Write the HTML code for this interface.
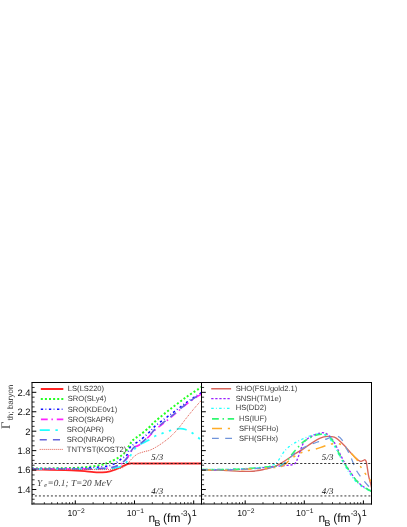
<!DOCTYPE html>
<html><head><meta charset="utf-8"><title>Gamma_th baryon</title>
<style>html,body{margin:0;padding:0;background:#fff;}body{width:407px;height:527px;overflow:hidden;font-family:"Liberation Sans",sans-serif;}svg{display:block;will-change:transform;opacity:0.999;}</style>
</head><body>
<svg width="407" height="527" viewBox="0 0 407 527">
<rect x="0" y="0" width="407" height="527" fill="#fff"/>
<defs><clipPath id="cl"><rect x="32.00" y="382.50" width="169.50" height="121.50"/></clipPath>
<clipPath id="cr"><rect x="201.50" y="382.50" width="170.00" height="121.50"/></clipPath></defs>
<line x1="30.90" y1="495.90" x2="201.50" y2="495.90" stroke="#8c8c8c" stroke-width="1.7" stroke-dasharray="2.0 2.0" clip-path="url(#cl)"/>
<line x1="200.40" y1="495.90" x2="371.50" y2="495.90" stroke="#8c8c8c" stroke-width="1.7" stroke-dasharray="2.0 2.0" clip-path="url(#cr)"/>
<path d="M32.00,469.50 C35.00,469.55 44.50,469.68 50.00,469.80 C55.50,469.92 60.67,470.07 65.00,470.20 C69.33,470.33 72.70,470.43 76.00,470.60 C79.30,470.77 81.85,470.93 84.80,471.20 C87.75,471.47 90.75,472.02 93.70,472.20 C96.65,472.38 99.78,472.45 102.50,472.30 C105.22,472.15 107.78,471.77 110.00,471.30 C112.22,470.83 113.85,470.28 115.80,469.50 C117.75,468.72 119.85,467.47 121.70,466.60 C123.55,465.73 125.42,464.82 126.90,464.30 C128.38,463.78 129.58,463.63 130.60,463.50 C131.62,463.37 132.10,463.50 133.00,463.50 C133.90,463.50 134.83,463.50 136.00,463.50 C137.17,463.50 137.67,463.50 140.00,463.50 C142.33,463.50 145.00,463.50 150.00,463.50 C155.00,463.50 161.33,463.50 170.00,463.50 C178.67,463.50 196.67,463.50 202.00,463.50" fill="none" stroke="#ff2424" stroke-width="1.8" stroke-linecap="butt" stroke-linejoin="round" clip-path="url(#cl)" />
<path d="M32.00,468.40 C35.00,468.40 44.50,468.43 50.00,468.40 C55.50,468.37 60.67,468.28 65.00,468.20 C69.33,468.12 72.70,468.05 76.00,467.90 C79.30,467.75 81.85,467.58 84.80,467.30 C87.75,467.02 90.75,466.65 93.70,466.20 C96.65,465.75 99.78,465.32 102.50,464.60 C105.22,463.88 107.28,463.10 110.00,461.90 C112.72,460.70 116.35,458.93 118.80,457.40 C121.25,455.87 123.00,454.60 124.70,452.70 C126.40,450.80 127.65,448.07 129.00,446.00 C130.35,443.93 130.97,442.13 132.80,440.30 C134.63,438.47 137.30,437.13 140.00,435.00 C142.70,432.87 146.38,429.85 149.00,427.50 C151.62,425.15 151.97,424.10 155.70,420.90 C159.43,417.70 166.15,412.37 171.40,408.30 C176.65,404.23 182.18,400.03 187.20,396.50 C192.22,392.97 199.12,388.67 201.50,387.10" fill="none" stroke="#22ff22" stroke-width="2.0" stroke-dasharray="2 2.1" stroke-linecap="butt" stroke-linejoin="round" clip-path="url(#cl)" />
<path d="M32.00,468.60 C35.00,468.60 44.50,468.60 50.00,468.60 C55.50,468.60 60.67,468.62 65.00,468.60 C69.33,468.58 71.22,468.68 76.00,468.50 C80.78,468.32 89.28,467.80 93.70,467.50 C98.12,467.20 99.78,467.02 102.50,466.70 C105.22,466.38 107.78,466.22 110.00,465.60 C112.22,464.98 113.85,464.17 115.80,463.00 C117.75,461.83 119.85,459.93 121.70,458.60 C123.55,457.27 125.55,456.82 126.90,455.00 C128.25,453.18 128.58,449.53 129.80,447.70 C131.02,445.87 132.50,445.20 134.20,444.00 C135.90,442.80 137.53,442.42 140.00,440.50 C142.47,438.58 146.38,434.98 149.00,432.50 C151.62,430.02 151.97,428.72 155.70,425.60 C159.43,422.48 166.15,417.73 171.40,413.80 C176.65,409.87 182.18,405.53 187.20,402.00 C192.22,398.47 199.12,394.17 201.50,392.60" fill="none" stroke="#1010ff" stroke-width="1.6" stroke-dasharray="2.3 2.4 0.8 2.6" stroke-linecap="butt" stroke-linejoin="round" clip-path="url(#cl)" />
<path d="M32.00,468.90 C35.00,468.92 42.67,468.98 50.00,469.00 C57.33,469.02 68.72,469.03 76.00,469.00 C83.28,468.97 89.28,468.88 93.70,468.80 C98.12,468.72 99.78,468.63 102.50,468.50 C105.22,468.37 107.78,468.30 110.00,468.00 C112.22,467.70 113.85,467.40 115.80,466.70 C117.75,466.00 119.85,465.15 121.70,463.80 C123.55,462.45 125.55,460.30 126.90,458.60 C128.25,456.90 128.58,455.45 129.80,453.60 C131.02,451.75 132.50,449.02 134.20,447.50 C135.90,445.98 137.53,446.33 140.00,444.50 C142.47,442.67 146.38,439.00 149.00,436.50 C151.62,434.00 151.97,432.75 155.70,429.50 C159.43,426.25 166.15,421.32 171.40,417.00 C176.65,412.68 182.18,407.47 187.20,403.60 C192.22,399.73 199.12,395.43 201.50,393.80" fill="none" stroke="#ff22ff" stroke-width="1.6" stroke-dasharray="6.8 3.7 1.5 3.9" stroke-linecap="butt" stroke-linejoin="round" clip-path="url(#cl)" />
<path d="M32.00,469.00 C35.00,469.02 42.67,469.07 50.00,469.10 C57.33,469.13 68.72,469.22 76.00,469.20 C83.28,469.18 89.28,469.07 93.70,469.00 C98.12,468.93 99.78,468.88 102.50,468.80 C105.22,468.72 107.78,468.67 110.00,468.50 C112.22,468.33 113.85,468.22 115.80,467.80 C117.75,467.38 119.85,467.03 121.70,466.00 C123.55,464.97 125.30,463.57 126.90,461.60 C128.50,459.63 129.95,456.38 131.30,454.20 C132.65,452.02 133.55,450.12 135.00,448.50 C136.45,446.88 137.85,445.83 140.00,444.50 C142.15,443.17 145.28,441.95 147.90,440.50 C150.52,439.05 153.35,436.97 155.70,435.80 C158.05,434.63 159.63,434.37 162.00,433.50 C164.37,432.63 167.02,431.40 169.90,430.60 C172.78,429.80 176.68,428.88 179.30,428.70 C181.92,428.52 183.50,428.83 185.60,429.50 C187.70,430.17 189.67,431.25 191.90,432.70 C194.13,434.15 197.40,436.90 199.00,438.20 C200.60,439.50 201.08,440.12 201.50,440.50" fill="none" stroke="#22ffff" stroke-width="1.8" stroke-dasharray="10.1 5.6 2.4 5.6 2.4 5.6 2.4 5.6" stroke-linecap="butt" stroke-linejoin="round" clip-path="url(#cl)" />
<path d="M32.00,468.90 C35.00,468.92 42.67,468.98 50.00,469.00 C57.33,469.02 68.72,469.03 76.00,469.00 C83.28,468.97 89.28,468.90 93.70,468.80 C98.12,468.70 99.78,468.57 102.50,468.40 C105.22,468.23 107.78,468.17 110.00,467.80 C112.22,467.43 113.85,466.97 115.80,466.20 C117.75,465.43 119.85,464.57 121.70,463.20 C123.55,461.83 125.55,459.70 126.90,458.00 C128.25,456.30 128.58,454.83 129.80,453.00 C131.02,451.17 132.50,448.50 134.20,447.00 C135.90,445.50 137.53,445.83 140.00,444.00 C142.47,442.17 146.38,438.55 149.00,436.00 C151.62,433.45 151.97,432.00 155.70,428.70 C159.43,425.40 166.15,420.45 171.40,416.20 C176.65,411.95 182.18,407.02 187.20,403.20 C192.22,399.38 199.12,394.95 201.50,393.30" fill="none" stroke="#6464dc" stroke-width="1.6" stroke-dasharray="7.1 6.1" stroke-linecap="butt" stroke-linejoin="round" clip-path="url(#cl)" />
<path d="M32.00,469.00 C35.00,469.03 42.67,469.13 50.00,469.20 C57.33,469.27 67.25,469.33 76.00,469.40 C84.75,469.47 96.35,469.63 102.50,469.60 C108.65,469.57 110.15,469.37 112.90,469.20 C115.65,469.03 117.28,468.92 119.00,468.60 C120.72,468.28 121.77,468.10 123.20,467.30 C124.63,466.50 126.13,465.27 127.60,463.80 C129.07,462.33 130.40,460.10 132.00,458.50 C133.60,456.90 135.60,455.20 137.20,454.20 C138.80,453.20 140.13,453.00 141.60,452.50 C143.07,452.00 144.70,451.55 146.00,451.20 C147.30,450.85 147.78,451.05 149.40,450.40 C151.02,449.75 153.33,448.68 155.70,447.30 C158.07,445.92 160.98,444.02 163.60,442.10 C166.22,440.18 168.78,438.28 171.40,435.80 C174.02,433.32 176.67,430.33 179.30,427.20 C181.93,424.07 184.58,420.28 187.20,417.00 C189.82,413.72 192.62,410.30 195.00,407.50 C197.38,404.70 200.42,401.42 201.50,400.20" fill="none" stroke="#dc4638" stroke-width="0.9" stroke-dasharray="1 1" stroke-linecap="butt" stroke-linejoin="round" clip-path="url(#cl)" />
<line x1="30.60" y1="463.50" x2="201.50" y2="463.50" stroke="#1c1c1c" stroke-width="0.9" stroke-dasharray="2.15 1.85" clip-path="url(#cl)"/>
<path d="M201.50,469.70 C203.75,469.75 210.58,469.83 215.00,470.00 C219.42,470.17 223.83,470.48 228.00,470.70 C232.17,470.92 236.33,471.18 240.00,471.30 C243.67,471.42 247.00,471.50 250.00,471.40 C253.00,471.30 255.67,471.03 258.00,470.70 C260.33,470.37 262.23,469.80 264.00,469.40 C265.77,469.00 267.10,468.72 268.60,468.30 C270.10,467.88 271.57,467.38 273.00,466.90 C274.43,466.42 275.07,466.50 277.20,465.40 C279.33,464.30 282.93,462.15 285.80,460.30 C288.67,458.45 291.53,456.17 294.40,454.30 C297.27,452.43 300.13,450.97 303.00,449.10 C305.87,447.23 308.73,444.92 311.60,443.10 C314.47,441.28 317.57,439.32 320.20,438.20 C322.83,437.08 325.05,436.57 327.40,436.40 C329.75,436.23 332.30,436.48 334.30,437.20 C336.30,437.92 337.68,439.27 339.40,440.70 C341.12,442.13 342.87,443.95 344.60,445.80 C346.33,447.65 348.08,449.88 349.80,451.80 C351.52,453.72 353.47,455.90 354.90,457.30 C356.33,458.70 357.38,459.53 358.40,460.20 C359.42,460.87 360.15,461.27 361.00,461.30 C361.85,461.33 362.83,460.65 363.50,460.40 C364.17,460.15 364.55,459.62 365.00,459.80 C365.45,459.98 365.80,460.07 366.20,461.50 C366.60,462.93 367.00,466.02 367.40,468.40 C367.80,470.78 368.08,473.33 368.60,475.80 C369.12,478.27 370.02,481.25 370.50,483.20 C370.98,485.15 371.33,486.78 371.50,487.50" fill="none" stroke="#d8665c" stroke-width="1.35" stroke-linecap="butt" stroke-linejoin="round" clip-path="url(#cr)" />
<path d="M201.50,469.70 C204.58,469.70 213.58,469.77 220.00,469.70 C226.42,469.63 233.33,469.60 240.00,469.30 C246.67,469.00 253.80,468.40 260.00,467.90 C266.20,467.40 272.90,466.70 277.20,466.30 C281.50,465.90 283.50,465.72 285.80,465.50 C288.10,465.28 289.42,465.38 291.00,465.00 C292.58,464.62 294.15,464.42 295.30,463.20 C296.45,461.98 297.05,459.77 297.90,457.70 C298.75,455.63 299.55,453.10 300.40,450.80 C301.25,448.50 301.98,445.77 303.00,443.90 C304.02,442.03 305.07,440.88 306.50,439.60 C307.93,438.32 309.60,437.22 311.60,436.20 C313.60,435.18 316.43,434.07 318.50,433.50 C320.57,432.93 322.25,432.47 324.00,432.80 C325.75,433.13 327.28,433.90 329.00,435.50 C330.72,437.10 332.57,439.53 334.30,442.40 C336.03,445.27 337.68,449.32 339.40,452.70 C341.12,456.08 342.90,459.67 344.60,462.70 C346.30,465.73 347.75,468.10 349.60,470.90 C351.45,473.70 353.65,477.05 355.70,479.50 C357.75,481.95 359.85,483.97 361.90,485.60 C363.95,487.23 366.40,488.37 368.00,489.30 C369.60,490.23 370.92,490.88 371.50,491.20" fill="none" stroke="#9a22ff" stroke-width="1.3" stroke-dasharray="2.3 1.75" stroke-linecap="butt" stroke-linejoin="round" clip-path="url(#cr)" />
<path d="M201.50,469.50 C204.58,469.48 213.58,469.53 220.00,469.40 C226.42,469.27 233.33,469.02 240.00,468.70 C246.67,468.38 254.67,468.05 260.00,467.50 C265.33,466.95 269.13,466.32 272.00,465.40 C274.87,464.48 275.75,463.43 277.20,462.00 C278.65,460.57 279.55,458.52 280.70,456.80 C281.85,455.08 282.67,453.42 284.10,451.70 C285.53,449.98 287.58,447.93 289.30,446.50 C291.02,445.07 292.12,444.38 294.40,443.10 C296.68,441.82 300.13,440.10 303.00,438.80 C305.87,437.50 308.97,436.13 311.60,435.30 C314.23,434.47 316.73,433.92 318.80,433.80 C320.87,433.68 322.30,433.90 324.00,434.60 C325.70,435.30 327.28,436.13 329.00,438.00 C330.72,439.87 332.57,442.83 334.30,445.80 C336.03,448.77 337.68,452.60 339.40,455.80 C341.12,459.00 343.00,462.22 344.60,465.00 C346.20,467.78 347.27,469.92 349.00,472.50 C350.73,475.08 353.00,478.25 355.00,480.50 C357.00,482.75 358.83,484.42 361.00,486.00 C363.17,487.58 366.25,489.07 368.00,490.00 C369.75,490.93 370.92,491.33 371.50,491.60" fill="none" stroke="#22ffff" stroke-width="1.25" stroke-dasharray="2.5 2.2 0.8 2.4" stroke-linecap="butt" stroke-linejoin="round" clip-path="url(#cr)" />
<path d="M201.50,469.60 C204.58,469.60 213.58,469.68 220.00,469.60 C226.42,469.52 233.33,469.43 240.00,469.10 C246.67,468.77 253.80,468.12 260.00,467.60 C266.20,467.08 273.47,466.50 277.20,466.00 C280.93,465.50 280.68,465.55 282.40,464.60 C284.12,463.65 285.78,462.17 287.50,460.30 C289.22,458.43 290.97,455.55 292.70,453.40 C294.43,451.25 296.18,449.27 297.90,447.40 C299.62,445.53 301.28,443.63 303.00,442.20 C304.72,440.77 306.20,439.90 308.20,438.80 C310.20,437.70 312.87,436.37 315.00,435.60 C317.13,434.83 319.25,434.43 321.00,434.20 C322.75,433.97 324.00,433.70 325.50,434.20 C327.00,434.70 328.53,435.65 330.00,437.20 C331.47,438.75 332.73,440.63 334.30,443.50 C335.87,446.37 337.70,451.05 339.40,454.40 C341.10,457.75 342.80,460.80 344.50,463.60 C346.20,466.40 347.73,468.52 349.60,471.20 C351.47,473.88 353.65,477.27 355.70,479.70 C357.75,482.13 359.85,484.17 361.90,485.80 C363.95,487.43 366.40,488.58 368.00,489.50 C369.60,490.42 370.92,491.00 371.50,491.30" fill="none" stroke="#30f870" stroke-width="1.6" stroke-dasharray="6.8 3.7 1.5 3.7" stroke-linecap="butt" stroke-linejoin="round" clip-path="url(#cr)" />
<path d="M201.50,469.80 C204.58,469.82 213.58,469.92 220.00,469.90 C226.42,469.88 233.33,469.93 240.00,469.70 C246.67,469.47 253.80,468.92 260.00,468.50 C266.20,468.08 273.47,467.62 277.20,467.20 C280.93,466.78 280.97,466.58 282.40,466.00 C283.83,465.42 284.65,464.65 285.80,463.70 C286.95,462.75 287.77,461.58 289.30,460.30 C290.83,459.02 293.05,457.25 295.00,456.00 C296.95,454.75 299.05,453.63 301.00,452.80 C302.95,451.97 304.32,451.60 306.70,451.00 C309.08,450.40 312.42,450.00 315.30,449.20 C318.18,448.40 321.42,447.05 324.00,446.20 C326.58,445.35 328.52,444.53 330.80,444.10 C333.08,443.67 335.67,443.38 337.70,443.60 C339.73,443.82 341.45,444.53 343.00,445.40 C344.55,446.27 345.75,447.62 347.00,448.80 C348.25,449.98 349.18,451.08 350.50,452.50 C351.82,453.92 353.72,455.95 354.90,457.30 C356.08,458.65 356.73,459.17 357.60,460.60 C358.47,462.03 358.93,463.88 360.10,465.90 C361.27,467.92 363.08,470.58 364.60,472.70 C366.12,474.82 368.05,476.80 369.20,478.60 C370.35,480.40 371.12,482.68 371.50,483.50" fill="none" stroke="#ffac28" stroke-width="1.5" stroke-dasharray="10 5.8 2.2 5.8 2.2 5.8 2.2 5.8" stroke-linecap="butt" stroke-linejoin="round" clip-path="url(#cr)" />
<path d="M201.50,469.70 C204.58,469.72 213.58,469.83 220.00,469.80 C226.42,469.77 233.33,469.75 240.00,469.50 C246.67,469.25 253.80,468.75 260.00,468.30 C266.20,467.85 273.37,467.43 277.20,466.80 C281.03,466.17 280.98,465.87 283.00,464.50 C285.02,463.13 287.40,460.45 289.30,458.60 C291.20,456.75 292.40,455.00 294.40,453.40 C296.40,451.80 299.20,450.23 301.30,449.00 C303.40,447.77 304.98,446.93 307.00,446.00 C309.02,445.07 311.43,444.13 313.40,443.40 C315.37,442.67 316.87,442.25 318.80,441.60 C320.73,440.95 322.97,440.18 325.00,439.50 C327.03,438.82 328.88,438.02 331.00,437.50 C333.12,436.98 335.87,436.02 337.70,436.40 C339.53,436.78 340.57,437.87 342.00,439.80 C343.43,441.73 345.00,445.50 346.30,448.00 C347.60,450.50 348.63,452.27 349.80,454.80 C350.97,457.33 352.22,460.62 353.30,463.20 C354.38,465.78 355.18,468.20 356.30,470.30 C357.42,472.40 358.67,473.97 360.00,475.80 C361.33,477.63 362.87,479.57 364.30,481.30 C365.73,483.03 367.40,484.92 368.60,486.20 C369.80,487.48 371.02,488.53 371.50,489.00" fill="none" stroke="#7094da" stroke-width="1.25" stroke-dasharray="6.8 6.4" stroke-linecap="butt" stroke-linejoin="round" clip-path="url(#cr)" />
<line x1="200.20" y1="463.50" x2="371.50" y2="463.50" stroke="#1c1c1c" stroke-width="0.9" stroke-dasharray="2.15 1.85" clip-path="url(#cr)"/>
<g stroke="#000" stroke-width="1" fill="none">
<line x1="31.50" y1="382.50" x2="372.00" y2="382.50"/>
<line x1="31.50" y1="504.00" x2="372.00" y2="504.00"/>
<line x1="32.00" y1="382.50" x2="32.00" y2="504.50"/>
<line x1="201.50" y1="382.50" x2="201.50" y2="504.50"/>
<line x1="371.50" y1="382.50" x2="371.50" y2="504.50"/>
<line x1="32.00" y1="499.24" x2="34.60" y2="499.24" stroke-width="0.8"/>
<line x1="201.50" y1="499.24" x2="204.10" y2="499.24" stroke-width="0.8"/>
<line x1="32.00" y1="494.38" x2="34.60" y2="494.38" stroke-width="0.8"/>
<line x1="201.50" y1="494.38" x2="204.10" y2="494.38" stroke-width="0.8"/>
<line x1="32.00" y1="489.52" x2="36.30" y2="489.52" stroke-width="1"/>
<line x1="201.50" y1="489.52" x2="205.80" y2="489.52" stroke-width="1"/>
<line x1="32.00" y1="484.66" x2="34.60" y2="484.66" stroke-width="0.8"/>
<line x1="201.50" y1="484.66" x2="204.10" y2="484.66" stroke-width="0.8"/>
<line x1="32.00" y1="479.80" x2="34.60" y2="479.80" stroke-width="0.8"/>
<line x1="201.50" y1="479.80" x2="204.10" y2="479.80" stroke-width="0.8"/>
<line x1="32.00" y1="474.94" x2="34.60" y2="474.94" stroke-width="0.8"/>
<line x1="201.50" y1="474.94" x2="204.10" y2="474.94" stroke-width="0.8"/>
<line x1="32.00" y1="470.08" x2="36.30" y2="470.08" stroke-width="1"/>
<line x1="201.50" y1="470.08" x2="205.80" y2="470.08" stroke-width="1"/>
<line x1="32.00" y1="465.22" x2="34.60" y2="465.22" stroke-width="0.8"/>
<line x1="201.50" y1="465.22" x2="204.10" y2="465.22" stroke-width="0.8"/>
<line x1="32.00" y1="460.36" x2="34.60" y2="460.36" stroke-width="0.8"/>
<line x1="201.50" y1="460.36" x2="204.10" y2="460.36" stroke-width="0.8"/>
<line x1="32.00" y1="455.50" x2="34.60" y2="455.50" stroke-width="0.8"/>
<line x1="201.50" y1="455.50" x2="204.10" y2="455.50" stroke-width="0.8"/>
<line x1="32.00" y1="450.64" x2="36.30" y2="450.64" stroke-width="1"/>
<line x1="201.50" y1="450.64" x2="205.80" y2="450.64" stroke-width="1"/>
<line x1="32.00" y1="445.78" x2="34.60" y2="445.78" stroke-width="0.8"/>
<line x1="201.50" y1="445.78" x2="204.10" y2="445.78" stroke-width="0.8"/>
<line x1="32.00" y1="440.92" x2="34.60" y2="440.92" stroke-width="0.8"/>
<line x1="201.50" y1="440.92" x2="204.10" y2="440.92" stroke-width="0.8"/>
<line x1="32.00" y1="436.06" x2="34.60" y2="436.06" stroke-width="0.8"/>
<line x1="201.50" y1="436.06" x2="204.10" y2="436.06" stroke-width="0.8"/>
<line x1="32.00" y1="431.20" x2="36.30" y2="431.20" stroke-width="1"/>
<line x1="201.50" y1="431.20" x2="205.80" y2="431.20" stroke-width="1"/>
<line x1="32.00" y1="426.34" x2="34.60" y2="426.34" stroke-width="0.8"/>
<line x1="201.50" y1="426.34" x2="204.10" y2="426.34" stroke-width="0.8"/>
<line x1="32.00" y1="421.48" x2="34.60" y2="421.48" stroke-width="0.8"/>
<line x1="201.50" y1="421.48" x2="204.10" y2="421.48" stroke-width="0.8"/>
<line x1="32.00" y1="416.62" x2="34.60" y2="416.62" stroke-width="0.8"/>
<line x1="201.50" y1="416.62" x2="204.10" y2="416.62" stroke-width="0.8"/>
<line x1="32.00" y1="411.76" x2="36.30" y2="411.76" stroke-width="1"/>
<line x1="201.50" y1="411.76" x2="205.80" y2="411.76" stroke-width="1"/>
<line x1="32.00" y1="406.90" x2="34.60" y2="406.90" stroke-width="0.8"/>
<line x1="201.50" y1="406.90" x2="204.10" y2="406.90" stroke-width="0.8"/>
<line x1="32.00" y1="402.04" x2="34.60" y2="402.04" stroke-width="0.8"/>
<line x1="201.50" y1="402.04" x2="204.10" y2="402.04" stroke-width="0.8"/>
<line x1="32.00" y1="397.18" x2="34.60" y2="397.18" stroke-width="0.8"/>
<line x1="201.50" y1="397.18" x2="204.10" y2="397.18" stroke-width="0.8"/>
<line x1="32.00" y1="392.32" x2="36.30" y2="392.32" stroke-width="1"/>
<line x1="201.50" y1="392.32" x2="205.80" y2="392.32" stroke-width="1"/>
<line x1="32.00" y1="387.46" x2="34.60" y2="387.46" stroke-width="0.8"/>
<line x1="201.50" y1="387.46" x2="204.10" y2="387.46" stroke-width="0.8"/>
<line x1="33.92" y1="504.00" x2="33.92" y2="502.20" stroke-width="0.8"/>
<line x1="44.35" y1="504.00" x2="44.35" y2="502.20" stroke-width="0.8"/>
<line x1="51.74" y1="504.00" x2="51.74" y2="502.20" stroke-width="0.8"/>
<line x1="57.48" y1="504.00" x2="57.48" y2="502.20" stroke-width="0.8"/>
<line x1="62.17" y1="504.00" x2="62.17" y2="502.20" stroke-width="0.8"/>
<line x1="66.13" y1="504.00" x2="66.13" y2="502.20" stroke-width="0.8"/>
<line x1="69.56" y1="504.00" x2="69.56" y2="502.20" stroke-width="0.8"/>
<line x1="72.59" y1="504.00" x2="72.59" y2="502.20" stroke-width="0.8"/>
<line x1="75.30" y1="504.00" x2="75.30" y2="500.40" stroke-width="1"/>
<line x1="93.12" y1="504.00" x2="93.12" y2="502.20" stroke-width="0.8"/>
<line x1="103.55" y1="504.00" x2="103.55" y2="502.20" stroke-width="0.8"/>
<line x1="110.94" y1="504.00" x2="110.94" y2="502.20" stroke-width="0.8"/>
<line x1="116.68" y1="504.00" x2="116.68" y2="502.20" stroke-width="0.8"/>
<line x1="121.37" y1="504.00" x2="121.37" y2="502.20" stroke-width="0.8"/>
<line x1="125.33" y1="504.00" x2="125.33" y2="502.20" stroke-width="0.8"/>
<line x1="128.76" y1="504.00" x2="128.76" y2="502.20" stroke-width="0.8"/>
<line x1="131.79" y1="504.00" x2="131.79" y2="502.20" stroke-width="0.8"/>
<line x1="134.50" y1="504.00" x2="134.50" y2="500.40" stroke-width="1"/>
<line x1="152.32" y1="504.00" x2="152.32" y2="502.20" stroke-width="0.8"/>
<line x1="162.75" y1="504.00" x2="162.75" y2="502.20" stroke-width="0.8"/>
<line x1="170.14" y1="504.00" x2="170.14" y2="502.20" stroke-width="0.8"/>
<line x1="175.88" y1="504.00" x2="175.88" y2="502.20" stroke-width="0.8"/>
<line x1="180.57" y1="504.00" x2="180.57" y2="502.20" stroke-width="0.8"/>
<line x1="184.53" y1="504.00" x2="184.53" y2="502.20" stroke-width="0.8"/>
<line x1="187.96" y1="504.00" x2="187.96" y2="502.20" stroke-width="0.8"/>
<line x1="190.99" y1="504.00" x2="190.99" y2="502.20" stroke-width="0.8"/>
<line x1="193.70" y1="504.00" x2="193.70" y2="500.40" stroke-width="1"/>
<line x1="203.89" y1="504.00" x2="203.89" y2="502.20" stroke-width="0.8"/>
<line x1="214.30" y1="504.00" x2="214.30" y2="502.20" stroke-width="0.8"/>
<line x1="221.68" y1="504.00" x2="221.68" y2="502.20" stroke-width="0.8"/>
<line x1="227.41" y1="504.00" x2="227.41" y2="502.20" stroke-width="0.8"/>
<line x1="232.09" y1="504.00" x2="232.09" y2="502.20" stroke-width="0.8"/>
<line x1="236.05" y1="504.00" x2="236.05" y2="502.20" stroke-width="0.8"/>
<line x1="239.47" y1="504.00" x2="239.47" y2="502.20" stroke-width="0.8"/>
<line x1="242.50" y1="504.00" x2="242.50" y2="502.20" stroke-width="0.8"/>
<line x1="245.20" y1="504.00" x2="245.20" y2="500.40" stroke-width="1"/>
<line x1="262.99" y1="504.00" x2="262.99" y2="502.20" stroke-width="0.8"/>
<line x1="273.40" y1="504.00" x2="273.40" y2="502.20" stroke-width="0.8"/>
<line x1="280.78" y1="504.00" x2="280.78" y2="502.20" stroke-width="0.8"/>
<line x1="286.51" y1="504.00" x2="286.51" y2="502.20" stroke-width="0.8"/>
<line x1="291.19" y1="504.00" x2="291.19" y2="502.20" stroke-width="0.8"/>
<line x1="295.15" y1="504.00" x2="295.15" y2="502.20" stroke-width="0.8"/>
<line x1="298.57" y1="504.00" x2="298.57" y2="502.20" stroke-width="0.8"/>
<line x1="301.60" y1="504.00" x2="301.60" y2="502.20" stroke-width="0.8"/>
<line x1="304.30" y1="504.00" x2="304.30" y2="500.40" stroke-width="1"/>
<line x1="322.09" y1="504.00" x2="322.09" y2="502.20" stroke-width="0.8"/>
<line x1="332.50" y1="504.00" x2="332.50" y2="502.20" stroke-width="0.8"/>
<line x1="339.88" y1="504.00" x2="339.88" y2="502.20" stroke-width="0.8"/>
<line x1="345.61" y1="504.00" x2="345.61" y2="502.20" stroke-width="0.8"/>
<line x1="350.29" y1="504.00" x2="350.29" y2="502.20" stroke-width="0.8"/>
<line x1="354.25" y1="504.00" x2="354.25" y2="502.20" stroke-width="0.8"/>
<line x1="357.67" y1="504.00" x2="357.67" y2="502.20" stroke-width="0.8"/>
<line x1="360.70" y1="504.00" x2="360.70" y2="502.20" stroke-width="0.8"/>
<line x1="363.40" y1="504.00" x2="363.40" y2="500.40" stroke-width="1"/>
</g>
<g fill="#0c0c0c" text-rendering="geometricPrecision" transform="rotate(0.012)">
<text x="30.6" y="395.62" text-anchor="end" style="font-family:'Liberation Sans',sans-serif;font-size:9.4px">2.4</text>
<text x="30.6" y="415.06" text-anchor="end" style="font-family:'Liberation Sans',sans-serif;font-size:9.4px">2.2</text>
<text x="30.6" y="434.50" text-anchor="end" style="font-family:'Liberation Sans',sans-serif;font-size:9.4px">2</text>
<text x="30.6" y="453.94" text-anchor="end" style="font-family:'Liberation Sans',sans-serif;font-size:9.4px">1.8</text>
<text x="30.6" y="473.38" text-anchor="end" style="font-family:'Liberation Sans',sans-serif;font-size:9.4px">1.6</text>
<text x="30.6" y="492.82" text-anchor="end" style="font-family:'Liberation Sans',sans-serif;font-size:9.4px">1.4</text>
<text x="67.50" y="516" style="font-family:'Liberation Sans',sans-serif;font-size:8.7px">10<tspan dy="-2.9" style="font-size:6.7px">&#8722;2</tspan></text>
<text x="126.80" y="516" style="font-family:'Liberation Sans',sans-serif;font-size:8.7px">10<tspan dy="-2.9" style="font-size:6.7px">&#8722;1</tspan></text>
<text x="237.30" y="516" style="font-family:'Liberation Sans',sans-serif;font-size:8.7px">10<tspan dy="-2.9" style="font-size:6.7px">&#8722;2</tspan></text>
<text x="296.20" y="516" style="font-family:'Liberation Sans',sans-serif;font-size:8.7px">10<tspan dy="-2.9" style="font-size:6.7px">&#8722;1</tspan></text>
<text x="191.9" y="515.8" style="font-family:'Liberation Sans',sans-serif;font-size:9px">1</text>
<text x="361.9" y="515.8" style="font-family:'Liberation Sans',sans-serif;font-size:9px">1</text>
<text x="148.60" y="522.2" style="font-family:'Liberation Sans',sans-serif;font-size:12px">n<tspan dy="3.5" dx="-0.7" style="font-size:8.8px">B</tspan><tspan dy="-3.5" dx="-0.6"> (fm</tspan><tspan dy="-6.1" dx="0.2" style="font-size:8px;letter-spacing:-0.3px">-3</tspan><tspan dy="6.1" dx="0.3">)</tspan></text>
<text x="318.70" y="522.2" style="font-family:'Liberation Sans',sans-serif;font-size:12px">n<tspan dy="3.5" dx="-0.7" style="font-size:8.8px">B</tspan><tspan dy="-3.5" dx="-0.6"> (fm</tspan><tspan dy="-6.1" dx="0.2" style="font-size:8px;letter-spacing:-0.3px">-3</tspan><tspan dy="6.1" dx="0.3">)</tspan></text>
<g transform="translate(10.4,429) rotate(-90)"><text x="0" y="0" style="font-family:'Liberation Serif',serif;font-size:13px" stroke="#fff" stroke-width="0.14">&#915;</text><text x="8.8" y="2.8" style="font-family:'Liberation Sans',sans-serif;font-size:8px" stroke="#fff" stroke-width="0.08">th; baryon</text></g>
<text y="485.5" stroke="#fff" stroke-width="0.1" style="font-family:'Liberation Serif',serif;font-size:9.3px;font-style:italic"><tspan x="37.2">Y</tspan><tspan x="44.3" dy="1.9" style="font-size:6.3px">e</tspan><tspan x="47.7" dy="-1.9">=0.1; T=20 MeV</tspan></text>
<text x="151.40" y="460.1" style="font-family:'Liberation Serif',serif;font-size:8.9px;font-style:italic;letter-spacing:0.25px">5/3</text>
<text x="151.40" y="493.7" style="font-family:'Liberation Serif',serif;font-size:8.9px;font-style:italic;letter-spacing:0.25px">4/3</text>
<text x="321.80" y="460.1" style="font-family:'Liberation Serif',serif;font-size:8.9px;font-style:italic;letter-spacing:0.25px">5/3</text>
<text x="321.80" y="493.7" style="font-family:'Liberation Serif',serif;font-size:8.9px;font-style:italic;letter-spacing:0.25px">4/3</text>
<line x1="40.9" y1="389.00" x2="63.4" y2="389.00" stroke="#ff2424" stroke-width="1.8"/>
<text x="67.9" y="391.25" style="font-family:'Liberation Sans',sans-serif;font-size:7.6px" stroke="#fff" stroke-width="0.1">LS(LS220)</text>
<line x1="40.9" y1="399.10" x2="63.4" y2="399.10" stroke="#22ff22" stroke-width="2.0" stroke-dasharray="2 2.1"/>
<text x="67.9" y="401.35" style="font-family:'Liberation Sans',sans-serif;font-size:7.6px" stroke="#fff" stroke-width="0.1">SRO(SLy4)</text>
<line x1="40.9" y1="409.30" x2="63.4" y2="409.30" stroke="#1010ff" stroke-width="1.6" stroke-dasharray="2.3 2.4 0.8 2.6"/>
<text x="67.9" y="411.55" style="font-family:'Liberation Sans',sans-serif;font-size:7.6px" stroke="#fff" stroke-width="0.1">SRO(KDE0v1)</text>
<line x1="41.0" y1="419.40" x2="63.4" y2="419.40" stroke="#ff22ff" stroke-width="1.6" stroke-dasharray="6.8 3.7 1.5 3.9"/>
<text x="67.9" y="421.65" style="font-family:'Liberation Sans',sans-serif;font-size:7.6px" stroke="#fff" stroke-width="0.1">SRO(SkAPR)</text>
<line x1="39.8" y1="430.20" x2="63.4" y2="430.20" stroke="#22ffff" stroke-width="1.8" stroke-dasharray="10.1 5.6 2.4 5.6 2.4 5.6 2.4 5.6"/>
<text x="66.8" y="431.95" style="font-family:'Liberation Sans',sans-serif;font-size:7.6px" stroke="#fff" stroke-width="0.1">SRO(APR)</text>
<line x1="39.8" y1="439.80" x2="63.4" y2="439.80" stroke="#6464dc" stroke-width="1.6" stroke-dasharray="7.1 6.1"/>
<text x="66.8" y="441.85" style="font-family:'Liberation Sans',sans-serif;font-size:7.6px" stroke="#fff" stroke-width="0.1">SRO(NRAPR)</text>
<line x1="39.8" y1="449.40" x2="63.4" y2="449.40" stroke="#dc4638" stroke-width="0.9" stroke-dasharray="1 1"/>
<text x="66.9" y="451.65" style="font-family:'Liberation Sans',sans-serif;font-size:7.6px" stroke="#fff" stroke-width="0.1">TNTYST(KOST2)</text>
<line x1="211.3" y1="388.70" x2="231.2" y2="388.70" stroke="#d8665c" stroke-width="1.35"/>
<text x="235.8" y="390.90" style="font-family:'Liberation Sans',sans-serif;font-size:7.6px" stroke="#fff" stroke-width="0.1">SHO(FSUgold2.1)</text>
<line x1="211.3" y1="398.60" x2="230.0" y2="398.60" stroke="#9a22ff" stroke-width="1.3" stroke-dasharray="2.3 1.75"/>
<text x="235.8" y="400.90" style="font-family:'Liberation Sans',sans-serif;font-size:7.6px" stroke="#fff" stroke-width="0.1">SNSH(TM1e)</text>
<line x1="211.3" y1="408.40" x2="230.2" y2="408.40" stroke="#22ffff" stroke-width="1.25" stroke-dasharray="2.5 2.2 0.8 2.4"/>
<text x="235.8" y="410.20" style="font-family:'Liberation Sans',sans-serif;font-size:7.6px" stroke="#fff" stroke-width="0.1">HS(DD2)</text>
<line x1="212.1" y1="418.80" x2="234.2" y2="418.80" stroke="#30f870" stroke-width="1.6" stroke-dasharray="6.8 3.7 1.5 3.7"/>
<text x="239.0" y="421.10" style="font-family:'Liberation Sans',sans-serif;font-size:7.6px" stroke="#fff" stroke-width="0.1">HS(IUF)</text>
<line x1="212.1" y1="428.50" x2="234.2" y2="428.50" stroke="#ffac28" stroke-width="1.5" stroke-dasharray="10 5.8 2.2 5.8 2.2 5.8 2.2 5.8"/>
<text x="239.0" y="430.70" style="font-family:'Liberation Sans',sans-serif;font-size:7.6px" stroke="#fff" stroke-width="0.1">SFH(SFHo)</text>
<line x1="212.1" y1="438.40" x2="234.2" y2="438.40" stroke="#7094da" stroke-width="1.25" stroke-dasharray="6.8 6.4"/>
<text x="239.0" y="440.70" style="font-family:'Liberation Sans',sans-serif;font-size:7.6px" stroke="#fff" stroke-width="0.1">SFH(SFHx)</text>
</g>
</svg>
</body></html>
